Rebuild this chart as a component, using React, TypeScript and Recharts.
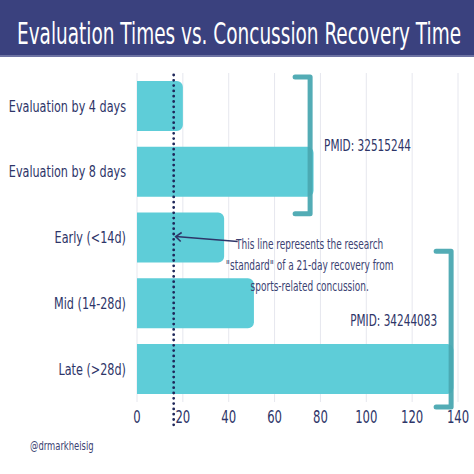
import { BarChart, Bar, XAxis, YAxis, CartesianGrid, ReferenceLine, ReferenceDot } from "recharts";

const categories = [
  "Evaluation by 4 days",
  "Evaluation by 8 days",
  "Early (<14d)",
  "Mid (14-28d)",
  "Late (>28d)",
];
const recoveryDays = [20, 77, 38, 51, 138];
const xTicks = [0, 20, 40, 60, 80, 100, 120, 140];
const standardDays = 16;
const bracketValues = [75.5, 137];
const bracketLabels = ["PMID: 32515244", "PMID: 34244083"];
const noteLines = [
  "This line represents the research",
  "\"standard\" of a 21-day recovery from",
  "sports-related concussion.",
];

const data = categories.map((name, i) => ({ name, days: recoveryDays[i] }));

const NAVY = "#2e3568";
const BAR = "#5ecdd8";
const BRACKET = "#4aa8b1";
const FONT = "'DejaVu Sans Condensed', 'DejaVu Sans', sans-serif";

// no narrow font installed, so squeeze the condensed one a bit more
function NarrowText({ x, y, size, anchor = "start", sx = 0.75, fill = NAVY, dy = "0.355em", children }: any) {
  return (
    <text
      transform={`translate(${x},${y}) scale(${sx},1)`}
      textAnchor={anchor}
      dy={dy}
      fontSize={size}
      fill={fill}
      fontFamily={FONT}
    >
      {children}
    </text>
  );
}

function XTick(p: any) {
  return (
    <NarrowText x={p.x} y={p.y} size={18} anchor="middle" sx={0.72} dy="0.71em">
      {p.payload.value}
    </NarrowText>
  );
}

function YTick(p: any) {
  return (
    <NarrowText x={p.x} y={p.y} size={16} anchor="end" sx={0.78}>
      {p.payload.value}
    </NarrowText>
  );
}

// bracket drawn from two category centres, stretched to cover the bars
function bracket(top: number, bottom: number, label: string, side: "right" | "left", dy: number) {
  return (p: any) => {
    const x = p.x1;
    const y1 = Math.min(p.y1, p.y2) - top;
    const y2 = Math.max(p.y1, p.y2) + bottom;
    const mid = (y1 + y2) / 2 + dy;
    return (
      <g>
        <path
          d={`M${x - 15},${y1} L${x},${y1} L${x},${y2} L${x - 15},${y2}`}
          fill="none"
          stroke={BRACKET}
          strokeWidth={5}
          strokeLinejoin="round"
          strokeLinecap="round"
          opacity={0.95}
        />
        <NarrowText
          x={side === "right" ? x + 14 : x - 14}
          y={mid}
          size={16}
          sx={0.73}
          anchor={side === "right" ? "start" : "end"}
        >
          {label}
        </NarrowText>
      </g>
    );
  };
}

function DottedLine(p: any) {
  const top = Math.min(p.y1, p.y2);
  const bottom = Math.max(p.y1, p.y2);
  return (
    <line
      x1={p.x1}
      x2={p.x2}
      y1={top + 2}
      y2={bottom + 26}
      stroke="#1f275a"
      strokeWidth={2.8}
      strokeDasharray="0 5.3"
      strokeLinecap="round"
    />
  );
}

function Note(p: any) {
  const { cx, cy } = p;
  const tx = cx + 136;
  return (
    <g>
      <path d={`M${cx + 64},${cy + 4} L${cx + 2},${cy - 1}`} stroke={NAVY} strokeWidth={1.6} fill="none" />
      <path
        d={`M${cx + 8},${cy - 5} L${cx + 2},${cy - 1} L${cx + 7},${cy + 4}`}
        stroke={NAVY}
        strokeWidth={1.6}
        fill="none"
      />
      {noteLines.map((t, i) => (
        <NarrowText key={i} x={tx} y={cy + 7 + i * 21} size={13.5} sx={0.74} anchor="middle" fill="#3b4272">
          {t}
        </NarrowText>
      ))}
    </g>
  );
}

export default function App() {
  return (
    <div style={{ position: "absolute", left: 0, top: 0, width: 474, height: 474, background: "#fff" }}>
      <BarChart
        width={474}
        height={474}
        data={data}
        layout="vertical"
        margin={{ top: 73, right: 16, bottom: 42, left: 0 }}
        barCategoryGap="12%"
      >
        <CartesianGrid horizontal={false} stroke="#e6e7ee" />
        <XAxis
          type="number"
          domain={[0, 140]}
          ticks={xTicks}
          axisLine={false}
          tickLine={false}
          tick={<XTick />}
        />
        <YAxis
          type="category"
          dataKey="name"
          width={137}
          axisLine={false}
          tickLine={false}
          tickMargin={5}
          tick={<YTick />}
        />
        <Bar dataKey="days" fill={BAR} radius={[0, 6, 6, 0]} isAnimationActive={false} />
        <ReferenceLine
          segment={[
            { x: bracketValues[0], y: categories[0] },
            { x: bracketValues[0], y: categories[1] },
          ]}
          shape={bracket(29, 42, bracketLabels[0], "right", 0)}
        />
        <ReferenceLine
          segment={[
            { x: bracketValues[1], y: categories[3] },
            { x: bracketValues[1], y: categories[4] },
          ]}
          shape={bracket(52, 38, bracketLabels[1], "left", -9)}
        />
        <ReferenceLine x={standardDays} shape={DottedLine} />
        <ReferenceDot x={standardDays} y={categories[2]} r={4} shape={Note} />
      </BarChart>
      <svg width={474} height={58} style={{ position: "absolute", left: 0, top: 0 }}>
        <rect x={0} y={0} width={474} height={55} fill="#3a417e" />
        <rect x={0} y={55} width={474} height={2} fill="#6d73a3" />
        <NarrowText x={239} y={33} size={30} sx={0.685} anchor="middle" fill="#ffffff">
          Evaluation Times vs. Concussion Recovery Time
        </NarrowText>
      </svg>
      <svg width={120} height={20} style={{ position: "absolute", left: 0, top: 436 }}>
        <NarrowText x={30} y={10} size={12} sx={0.78} fill="#3b4272">
          @drmarkheisig
        </NarrowText>
      </svg>
    </div>
  );
}
